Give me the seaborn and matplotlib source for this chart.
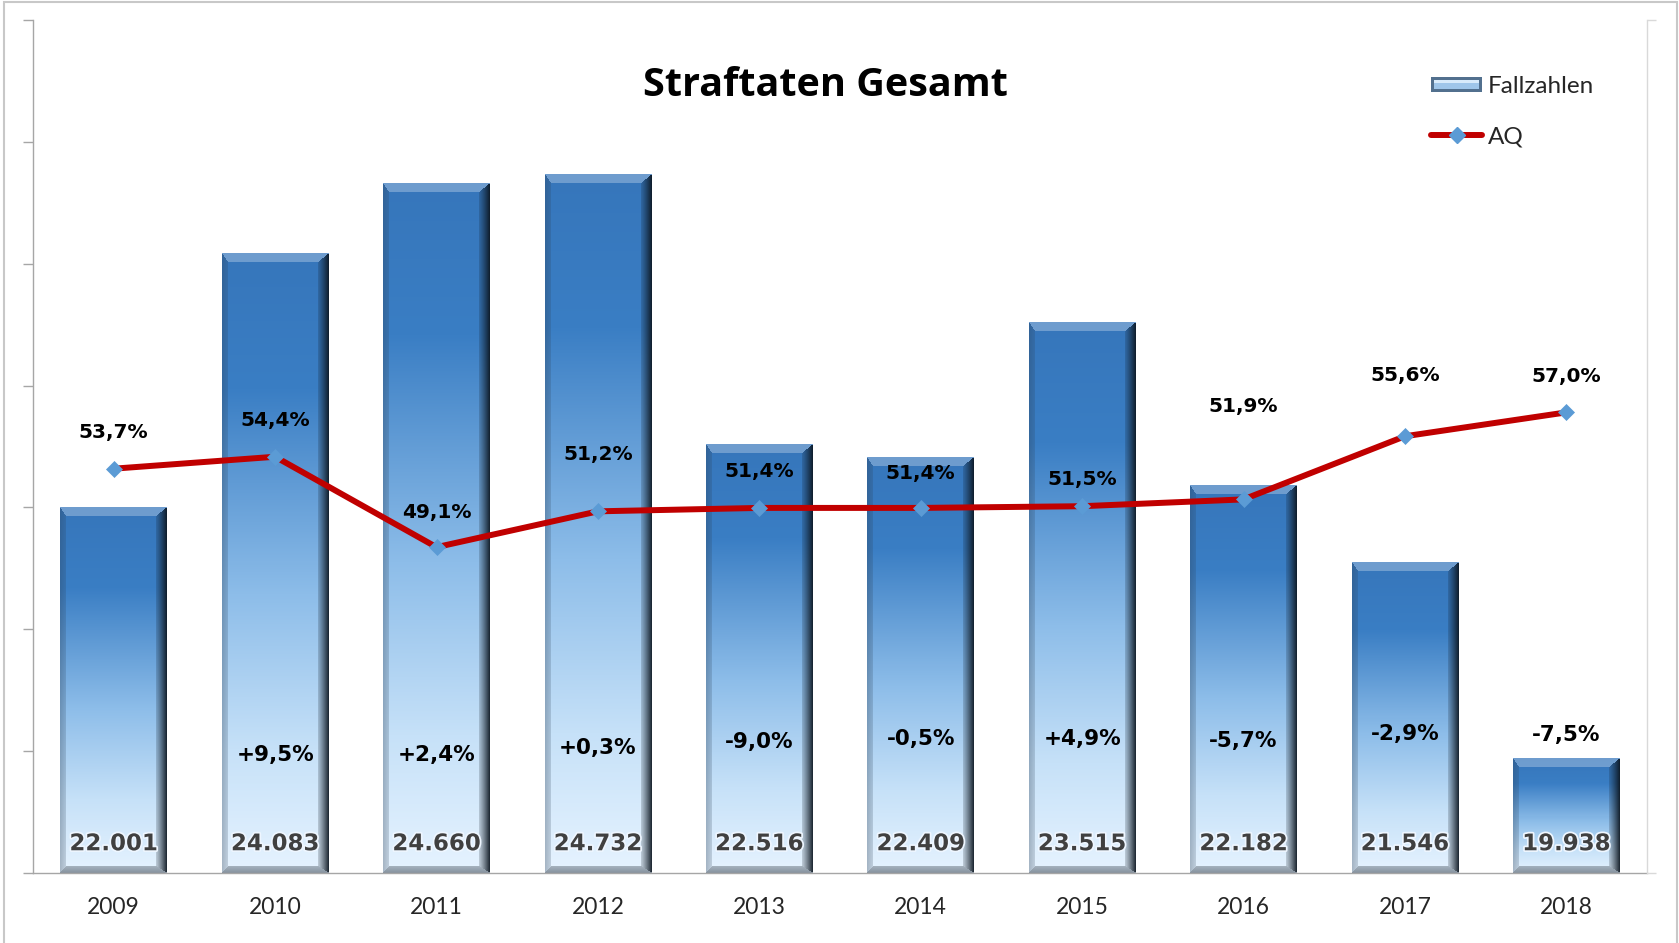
import numpy as np
import matplotlib
matplotlib.use("Agg")
import matplotlib.pyplot as plt
import seaborn as sns
from matplotlib.patches import Rectangle
from matplotlib.lines import Line2D
from matplotlib.legend_handler import HandlerBase
import matplotlib.patheffects as pe
from matplotlib.colors import to_rgb

# ---------------- data ----------------
years = ["2009", "2010", "2011", "2012", "2013", "2014", "2015", "2016", "2017", "2018"]
cases = [22001, 24083, 24660, 24732, 22516, 22409, 23515, 22182, 21546, 19938]
aq = [53.7, 54.4, 49.1, 51.2, 51.4, 51.4, 51.5, 51.9, 55.6, 57.0]
changes = ["", "+9,5%", "+2,4%", "+0,3%", "-9,0%", "-0,5%", "+4,9%", "-5,7%", "-2,9%", "-7,5%"]
title = "Straftaten Gesamt"

# label placement (style, not data)
aq_label_dy = [36, 36, 35, 57, 36, 34, 27, 93, 61, 36]          # pixels above marker
change_label_y = [0, 19970, 19970, 20023, 20076, 20101, 20101, 20085, 20138, 20129]
value_label_y = 19240

sns.set_style("white")
plt.rcParams["font.family"] = ["DejaVu Sans"]

W_PX, H_PX = 1679, 943
fig = plt.figure(figsize=(W_PX / 100, H_PX / 100), dpi=100)
ax = fig.add_axes([33 / W_PX, 1 - 873 / H_PX, (1647 - 33) / W_PX, (873 - 20) / H_PX])

YMIN, YMAX = 19000, 26000
sns.barplot(x=years, y=cases, ax=ax, width=0.66, color="#3b7fc5", saturation=1)
ax.set_xlim(-0.5, len(years) - 0.5)
ax.set_ylim(YMIN, YMAX)
ax.set_xlabel("")
ax.set_ylabel("")


def hex_rgb(h):
    return np.array(to_rgb(h))


def bar_image(h_px, w_px):
    H = max(int(round(h_px)), 4)
    W = max(int(round(w_px)), 4)
    t = np.linspace(0, 1, H)
    st = [0.0, 0.22, 0.55, 0.8, 1.0]
    sc = np.array([hex_rgb(c) for c in ["#3676bb", "#3a7ec4", "#8dbde9", "#c6e1f8", "#e6f3ff"]])
    base = np.stack([np.interp(t, st, sc[:, k]) for k in range(3)], axis=-1)
    img = np.repeat(base[:, None, :], W, axis=1)
    r = np.arange(H)[:, None] * np.ones((1, W))
    c = np.ones((H, 1)) * np.arange(W)[None, :]
    widths = [9.0, 7.0, 6.0, 11.0]  # top, bottom, left, right
    D = np.stack([r / widths[0], (H - 1 - r) / widths[1], c / widths[2], (W - 1 - c) / widths[3]])
    face = np.argmin(D, axis=0)
    dmin = np.min(D, axis=0)
    inb = dmin < 1
    w = np.clip(1 - dmin, 0, 1)
    out = img.copy()
    m = inb & (face == 0)
    out[m] = img[m] * 0.72 + np.array([1, 1, 1]) * 0.28
    m = inb & (face == 1)
    tgt = hex_rgb("#5f6b77")
    a = (0.45 + 0.25 * w[m])[:, None]
    out[m] = img[m] * (1 - a) + tgt * a
    m = inb & (face == 2)
    tgt = hex_rgb("#2a3d52")
    a = (0.18 + 0.15 * w[m])[:, None]
    out[m] = img[m] * (1 - a) + tgt * a
    m = inb & (face == 3)
    tgt = hex_rgb("#0c1620")
    a = (0.15 + 0.75 * w[m] ** 1.2)[:, None]
    out[m] = img[m] * (1 - a) + tgt * a
    return np.clip(out, 0, 1)


for p in list(ax.patches):
    x0 = p.get_x()
    x1 = x0 + p.get_width()
    top = p.get_height()
    p.set_facecolor("none")
    p.set_edgecolor("none")
    (px0, py0), (px1, py1) = ax.transData.transform([(x0, YMIN), (x1, top)])
    img = bar_image(abs(py1 - py0), abs(px1 - px0))
    ax.imshow(img, extent=(x0, x1, YMIN, top), aspect="auto", zorder=2,
              interpolation="nearest")

ax.set_xlim(-0.5, len(years) - 0.5)
ax.set_ylim(YMIN, YMAX)

# axes styling
for s in ["top", "right"]:
    ax.spines[s].set_visible(False)
for s in ["left", "bottom"]:
    ax.spines[s].set_color("#a6a6a6")
    ax.spines[s].set_linewidth(1.0)
ax.set_yticks(np.arange(YMIN, YMAX + 1, 1000))
ax.tick_params(axis="y", which="major", length=7.5, width=1.0, color="#a6a6a6",
               direction="out", labelleft=False)
ax.set_xticks(np.arange(len(years)))
ax.set_xticks(np.arange(-0.5, len(years), 1.0), minor=True)
ax.tick_params(axis="x", which="major", length=0, pad=17)
ax.tick_params(axis="x", which="minor", length=5.5, width=1.0, color="#a6a6a6", direction="out")
ax.set_xticklabels(years, fontfamily=["Lato", "DejaVu Sans"], fontsize=16.5, color="#262626")

# value labels at bottom of bars
for i, v in enumerate(cases):
    ax.text(i, value_label_y, f"{v:,}".replace(",", "."), ha="center", va="center",
            fontsize=16.5, fontweight="bold", color="#404040", zorder=5,
            path_effects=[pe.withStroke(linewidth=2.5, foreground="#eef6ff")])

# change labels
for i, s in enumerate(changes):
    if s:
        ax.text(i, change_label_y[i], s, ha="center", va="center", fontsize=15.5,
                fontweight="bold", color="black", zorder=5)

# secondary axis with AQ
ax2 = ax.twinx()
xpos = np.arange(len(years))
sns.lineplot(x=xpos, y=aq, ax=ax2, color="#c00000", linewidth=4.3, marker="D",
             markersize=8.5, markerfacecolor="#5b9bd5", markeredgecolor="#5b9bd5",
             markeredgewidth=0.5, zorder=4)
ax2.set_ylim(30, 80)
ax2.set_xlim(-0.5, len(years) - 0.5)
ax2.set_ylabel("")
for s in ["top", "left", "bottom"]:
    ax2.spines[s].set_visible(False)
ax2.spines["right"].set_color("#d9d9d9")
ax2.spines["right"].set_linewidth(1.0)
ax2.set_yticks([30, 80])
ax2.tick_params(axis="y", length=6.5, width=1.0, color="#d9d9d9", direction="out",
                labelright=False)

for i, v in enumerate(aq):
    ax2.annotate(f"{v:.1f}%".replace(".", ","), (i, v), xytext=(0, aq_label_dy[i]),
                 textcoords="offset pixels", ha="center", va="center", fontsize=14.5,
                 fontweight="bold", color="black", zorder=6)

# title
fig.text(825 / W_PX, 1 - 85 / H_PX, title, ha="center", va="center",
         fontfamily=["Open Sans", "DejaVu Sans"], fontweight="bold", fontsize=28.5, color="black")


# legend
class BarHandler(HandlerBase):
    def create_artists(self, legend, orig_handle, xdescent, ydescent, width, height,
                       fontsize, trans):
        h = 15 * 0.72
        y0 = -ydescent + (height - h) / 2
        x0 = -xdescent
        outer = Rectangle((x0, y0), width, h, facecolor="#52708e", edgecolor="none",
                          transform=trans)
        inner = Rectangle((x0 + 2.2, y0 + 2.2), width - 4.4, h - 4.4, facecolor="#9fc6ea",
                          edgecolor="none", transform=trans)
        top = Rectangle((x0 + 2.2, y0 + h - 4.4), width - 4.4, 2.2, facecolor="#d8ebfb",
                        edgecolor="none", transform=trans)
        return [outer, inner, top]


bar_handle = Rectangle((0, 0), 1, 1)
line_handle = Line2D([], [], color="#c00000", linewidth=4.3, marker="D", markersize=8.5,
                     markerfacecolor="#5b9bd5", markeredgecolor="#5b9bd5")
fig.legend([bar_handle, line_handle], ["Fallzahlen", "AQ"],
           handler_map={Rectangle: BarHandler()},
           loc="upper left", bbox_to_anchor=(1431 / W_PX, 1 - 76 / H_PX),
           frameon=False, borderpad=0, borderaxespad=0, handlelength=2.1,
           handletextpad=0.25, labelspacing=1.2,
           prop={"family": ["Lato", "DejaVu Sans"], "size": 17.5})

# figure border
fig.patches.append(Rectangle((4 / W_PX, -0.01), (1677 - 4) / W_PX, 1.01 - 2 / H_PX,
                             transform=fig.transFigure, fill=False, edgecolor="#c8c8c8",
                             linewidth=1.5, zorder=10))

fig.savefig("out.png", dpi=100)
